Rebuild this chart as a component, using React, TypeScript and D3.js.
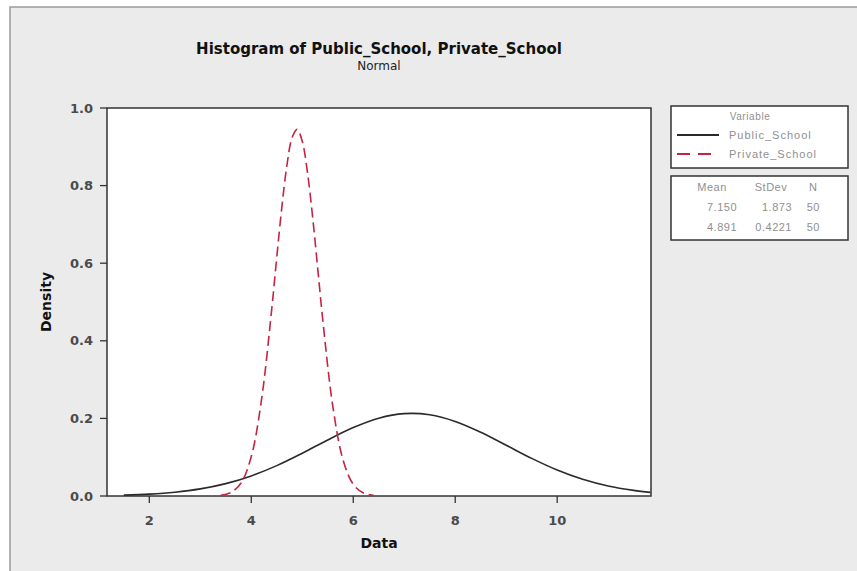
import React from "react";
import * as d3 from "d3";

// Values (density curves, Minitab "Normal" fit)
const publicX = [1.5, 2, 2.5, 3, 3.5, 4, 4.5, 5, 5.5, 6, 6.5, 7, 7.5, 8, 8.5, 9, 9.5, 10, 10.5, 11, 11.5, 11.83];
const publicY = [0.0023, 0.0049, 0.0098, 0.0183, 0.0319, 0.0518, 0.0783, 0.1102, 0.1445, 0.1764, 0.2006, 0.2123, 0.2093, 0.1921, 0.1642, 0.1308, 0.0969, 0.0669, 0.043, 0.0257, 0.0144, 0.0094];
const privateX = [3.4, 3.6, 3.8, 4.0, 4.2, 4.4, 4.5, 4.6, 4.7, 4.8, 4.9, 5.0, 5.1, 5.2, 5.3, 5.4, 5.6, 5.8, 6.0, 6.2, 6.4];
const privateY = [0.0018, 0.0088, 0.0334, 0.1018, 0.2475, 0.4804, 0.6155, 0.7452, 0.8532, 0.9234, 0.9449, 0.9141, 0.836, 0.723, 0.591, 0.4568, 0.2305, 0.093, 0.03, 0.0077, 0.0016];

const xTicks = [2, 4, 6, 8, 10];
const yTicks = [0.0, 0.2, 0.4, 0.6, 0.8, 1.0];

const seriesNames = ["Public_School", "Private_School"];
const statHeaders = ["Mean", "StDev", "N"];
const statMeans = ["7.150", "4.891"];
const statSDs = ["1.873", "0.4221"];
const statNs = ["50", "50"];

const W = 857;
const H = 571;
const PL = 107, PR = 651, PT = 108, PB = 496;

export default function App() {
  const x = d3.scaleLinear().domain([1.17, 11.84]).range([PL, PR]);
  const y = d3.scaleLinear().domain([0, 1]).range([PB, PT]);
  const line = d3
    .line<[number, number]>()
    .x((d) => x(d[0]))
    .y((d) => y(d[1]))
    .curve(d3.curveCatmullRom);
  const pubPts = publicX.map((v, i) => [v, publicY[i]] as [number, number]);
  const privPts = privateX.map((v, i) => [v, privateY[i]] as [number, number]);
  const font = "'DejaVu Sans', Verdana, sans-serif";
  const red = "#c4243f";
  const legendText = "#8f8f8f";
  const lfont = "'Liberation Sans', Arial, sans-serif";

  return (
    <svg width={W} height={H} style={{ position: "absolute", left: 0, top: 0 }} fontFamily={font}>
      <rect x={0} y={0} width={W} height={H} fill="#ffffff" />
      <rect x={10} y={7} width={W} height={H} fill="#ebebeb" stroke="#9a9a9a" strokeWidth={1.5} />
      <text x={(PL + PR) / 2} y={54} textAnchor="middle" fontSize={15} fontWeight="bold" fill="#111">
        Histogram of Public_School, Private_School
      </text>
      <text x={(PL + PR) / 2} y={70} textAnchor="middle" fontSize={12} fill="#222">
        Normal
      </text>

      <rect x={PL} y={PT} width={PR - PL} height={PB - PT} fill="#ffffff" stroke="#333" strokeWidth={1.5} />

      {yTicks.map((t) => (
        <g key={"y" + t}>
          <line x1={PL - 7} x2={PL} y1={y(t)} y2={y(t)} stroke="#333" strokeWidth={1.3} />
          <text x={93} y={y(t)} dy="0.35em" textAnchor="end" fontSize={13} fontWeight="bold" fill="#4a4a4a">
            {t.toFixed(1)}
          </text>
        </g>
      ))}
      {xTicks.map((t) => (
        <g key={"x" + t}>
          <line x1={x(t)} x2={x(t)} y1={PB} y2={PB + 7} stroke="#333" strokeWidth={1.3} />
          <text x={x(t)} y={520} dy="0.35em" textAnchor="middle" fontSize={13} fontWeight="bold" fill="#4a4a4a">
            {t}
          </text>
        </g>
      ))}

      <text x={(PL + PR) / 2} y={543} dy="0.35em" textAnchor="middle" fontSize={14} fontWeight="bold" fill="#111">
        Data
      </text>
      <text
        transform={`translate(46,${(PT + PB) / 2}) rotate(-90)`}
        textAnchor="middle"
        dy="0.35em"
        fontSize={14}
        fontWeight="bold"
        fill="#111"
      >
        Density
      </text>

      <path d={line(pubPts) || ""} fill="none" stroke="#2a2a2a" strokeWidth={1.6} />
      <path d={line(privPts) || ""} fill="none" stroke={red} strokeWidth={1.6} strokeDasharray="10,5" />

      {/* Legend: variables */}
      <g fontFamily={lfont}>
        <rect x={671} y={106} width={177} height={62} fill="#ffffff" stroke="#333" strokeWidth={1.5} />
        <text x={750} y={116} dy="0.35em" textAnchor="middle" fontSize={10} letterSpacing={0.6} fill={legendText}>
          Variable
        </text>
        <line x1={677} x2={719} y1={135} y2={135} stroke="#2a2a2a" strokeWidth={1.8} />
        <text x={729} y={135} dy="0.35em" fontSize={11} letterSpacing={1} fill={legendText}>
          {seriesNames[0]}
        </text>
        <line x1={677} x2={719} y1={154} y2={154} stroke={red} strokeWidth={1.8} strokeDasharray="13,8" />
        <text x={729} y={154} dy="0.35em" fontSize={11} letterSpacing={1} fill={legendText}>
          {seriesNames[1]}
        </text>

        {/* Legend: statistics */}
        <rect x={671} y={176} width={177} height={64} fill="#ffffff" stroke="#333" strokeWidth={1.5} />
        <text x={712} y={187} dy="0.35em" textAnchor="middle" fontSize={11} letterSpacing={0.5} fill={legendText}>
          {statHeaders[0]}
        </text>
        <text x={771} y={187} dy="0.35em" textAnchor="middle" fontSize={11} letterSpacing={0.5} fill={legendText}>
          {statHeaders[1]}
        </text>
        <text x={813} y={187} dy="0.35em" textAnchor="middle" fontSize={11} fill={legendText}>
          {statHeaders[2]}
        </text>
        {[0, 1].map((i) => (
          <g key={"s" + i}>
            <text x={737} y={207 + i * 20} dy="0.35em" textAnchor="end" fontSize={11} letterSpacing={0.5} fill={legendText}>
              {statMeans[i]}
            </text>
            <text x={792} y={207 + i * 20} dy="0.35em" textAnchor="end" fontSize={11} letterSpacing={0.5} fill={legendText}>
              {statSDs[i]}
            </text>
            <text x={820} y={207 + i * 20} dy="0.35em" textAnchor="end" fontSize={11} letterSpacing={0.5} fill={legendText}>
              {statNs[i]}
            </text>
          </g>
        ))}
      </g>
    </svg>
  );
}
